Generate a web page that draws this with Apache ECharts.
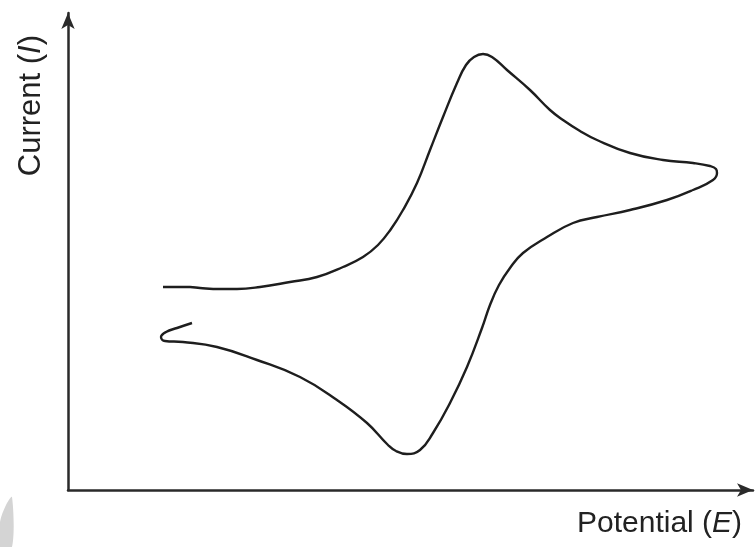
<!DOCTYPE html>
<html>
<head>
<meta charset="utf-8">
<style>
  html, body { margin: 0; padding: 0; background: #fff; }
  #chart { width: 755px; height: 547px; }
</style>
<script src="https://cdn.jsdelivr.net/npm/echarts@6/dist/echarts.min.js"></script>
</head>
<body>
<div id="chart"></div>
<script>
// Cyclic voltammogram: forward scan (upper branch), reverse scan (lower branch).
// Arbitrary units; potential grows to the right, current grows upward.
const potential = [
  95, 107, 122, 132, 152, 169, 192, 222, 249, 275, 295, 310, 323, 335, 349, 362,
  375, 389, 398, 406, 415, 424, 439, 462, 482, 495, 512, 529, 562, 595, 625, 642,
  648, 649, 645, 625, 599, 562, 529, 505, 479, 455, 442, 431, 422, 414, 399, 382,
  365, 352, 339, 328, 320, 299, 269, 232, 189, 149, 115, 97, 93, 98, 109, 124
];
const current = [
  203, 203, 203, 202, 201, 201, 203, 208, 213, 223, 233, 245, 261, 280, 307, 340,
  373, 407, 425, 433, 436, 433, 420, 400, 380, 370, 359, 350, 337, 330, 327, 324,
  321, 317, 310, 300, 290, 280, 273, 267, 253, 237, 222, 205, 185, 162, 123, 87,
  57, 40, 36, 39, 45, 67, 90, 113, 130, 143, 148, 149, 153, 158, 162, 167
];

const axisColor = '#2a2a2a';
const textFont = '"Liberation Sans", Arial, Helvetica, sans-serif';

const points = potential.map((e, i) => [e, current[i]]);

const chart = echarts.init(document.getElementById('chart'), null, { renderer: 'canvas' });
chart.setOption({
  animation: false,
  backgroundColor: '#ffffff',
  grid: { left: 68, right: 2, top: 13, bottom: 57, containLabel: false },
  xAxis: {
    type: 'value', min: 0, max: 685,
    axisLine: { show: true, symbol: ['none', 'arrow'], symbolSize: [10, 16],
                lineStyle: { color: axisColor, width: 2.5 } },
    axisTick: { show: false }, axisLabel: { show: false }, splitLine: { show: false }
  },
  yAxis: {
    type: 'value', min: 0, max: 477,
    axisLine: { show: true, symbol: ['none', 'arrow'], symbolSize: [10, 16],
                lineStyle: { color: axisColor, width: 2.5 } },
    axisTick: { show: false }, axisLabel: { show: false }, splitLine: { show: false }
  },
  series: [{
    type: 'line',
    data: points,
    smooth: 0.45,
    showSymbol: false,
    lineStyle: { color: '#1e1e1e', width: 2.4 }
  }],
  graphic: [
    {
      type: 'text', left: 16, top: 35, rotation: Math.PI / 2,
      style: {
        text: '{n|Current (}{i|I}{n|)}',
        rich: {
          n: { fontFamily: textFont, fontSize: 31, fill: '#222' },
          i: { fontFamily: textFont, fontSize: 31, fontStyle: 'italic', fill: '#222' }
        }
      }
    },
    {
      type: 'text', left: 577, top: 509,
      style: {
        text: '{n|Potential (}{i|E}{n|)}',
        rich: {
          n: { fontFamily: textFont, fontSize: 30, fill: '#222' },
          i: { fontFamily: textFont, fontSize: 30, fontStyle: 'italic', fill: '#222' }
        }
      }
    },
    {
      type: 'polygon', silent: true,
      shape: { points: [[0, 522], [6, 505], [12, 497], [12, 547], [0, 547]], smooth: 0.3 },
      style: { fill: '#d4d4d4' }
    }
  ]
});
</script>
</body>
</html>
